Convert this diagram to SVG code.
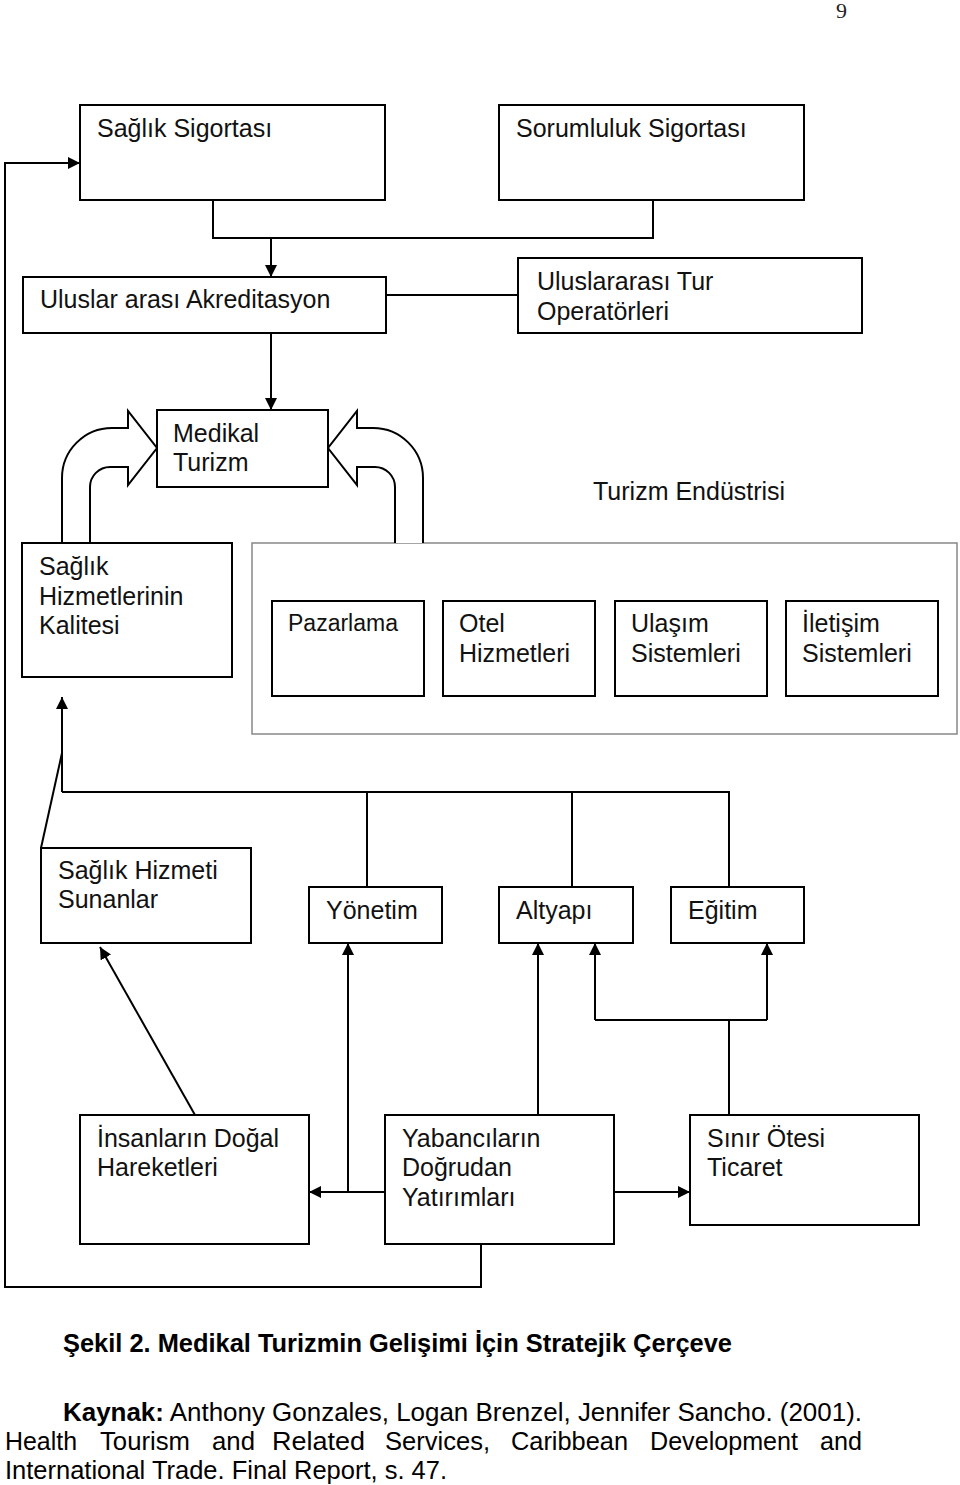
<svg xmlns="http://www.w3.org/2000/svg" width="960" height="1485" viewBox="0 0 960 1485">
<style>
.box{fill:#fff;stroke:#000;stroke-width:2}
.con{fill:none;stroke:#000;stroke-width:2}
.blk{fill:#fff;stroke:#000;stroke-width:2;stroke-linejoin:miter}
.t{font-family:"Liberation Sans",Arial,sans-serif;font-size:25px;fill:#111}
.s{font-family:"Liberation Sans",Arial,sans-serif;font-size:23px;fill:#111}
.c{font-family:"Liberation Sans",Arial,sans-serif;font-size:25px;fill:#000}
</style>
<defs>
<marker id="ah" viewBox="0 0 12 12" refX="12" refY="6" markerWidth="12" markerHeight="12" orient="auto" markerUnits="userSpaceOnUse">
<path d="M0,0 L12,6 L0,12 z" fill="#000"/>
</marker>
</defs>
<rect width="960" height="1485" fill="#fff"/>
<text x="836" y="18" font-family="Liberation Serif,serif" font-size="22" fill="#222">9</text>

<g id="turizm-endustrisi">
<rect x="252" y="543" width="705" height="191" fill="#fff" stroke="#888" stroke-width="1.5"/>
<text class="t" x="593" y="500">Turizm Endüstrisi</text>
</g>

<g id="connectors">
<path class="con" d="M481,1244 V1287 H5 V163 H80" marker-end="url(#ah)"/>
<path class="con" d="M213,200 V238 H653 V200"/>
<path class="con" d="M271,238 V277" marker-end="url(#ah)"/>
<path class="con" d="M386,295 H518"/>
<path class="con" d="M271,333 V410" marker-end="url(#ah)"/>
<path class="blk" d="M62,543 V478 A50,50 0 0 1 112,428 H128 V411 L157,448 L128,485 V467 H110 A20,20 0 0 0 90,487 V543"/>
<path class="blk" d="M423,543 V478 A50,50 0 0 0 373,428 H357 V411 L328,448 L357,485 V467 H375 A20,20 0 0 1 395,487 V543"/>
<path class="con" d="M41,848 L62,753"/>
<path class="con" d="M62,792 V697" marker-end="url(#ah)"/>
<path class="con" d="M62,792 H729 V887"/>
<path class="con" d="M367,792 V887"/>
<path class="con" d="M572,792 V887"/>
<path class="con" d="M195,1115 L100,947" marker-end="url(#ah)"/>
<path class="con" d="M385,1192 H309" marker-end="url(#ah)"/>
<path class="con" d="M348,1192 V943" marker-end="url(#ah)"/>
<path class="con" d="M538,1115 V943" marker-end="url(#ah)"/>
<path class="con" d="M614,1192 H690" marker-end="url(#ah)"/>
<path class="con" d="M729,1115 V1020"/>
<path class="con" d="M595,1020 H767"/>
<path class="con" d="M595,1020 V943" marker-end="url(#ah)"/>
<path class="con" d="M767,1020 V943" marker-end="url(#ah)"/>
</g>

<g id="saglik-sigortasi"><rect class="box" x="80" y="105" width="305" height="95"/><text class="t" x="97" y="137">Sağlık Sigortası</text></g>
<g id="sorumluluk-sigortasi"><rect class="box" x="499" y="105" width="305" height="95"/><text class="t" x="516" y="137">Sorumluluk Sigortası</text></g>
<g id="akreditasyon"><rect class="box" x="23" y="277" width="363" height="56"/><text class="t" x="40" y="308">Uluslar arası Akreditasyon</text></g>
<g id="tur-operatorleri"><rect class="box" x="518" y="258" width="344" height="75"/><text class="t" x="537" y="290">Uluslararası Tur</text><text class="t" x="537" y="320">Operatörleri</text></g>
<g id="medikal-turizm"><rect class="box" x="157" y="410" width="171" height="77"/><text class="t" x="173" y="442">Medikal</text><text class="t" x="173" y="471">Turizm</text></g>
<g id="saglik-kalitesi"><rect class="box" x="22" y="543" width="210" height="134"/><text class="t" x="39" y="575">Sağlık</text><text class="t" x="39" y="605">Hizmetlerinin</text><text class="t" x="39" y="634">Kalitesi</text></g>
<g id="pazarlama"><rect class="box" x="272" y="601" width="152" height="95"/><text class="s" x="288" y="631">Pazarlama</text></g>
<g id="otel"><rect class="box" x="443" y="601" width="152" height="95"/><text class="t" x="459" y="632">Otel</text><text class="t" x="459" y="662">Hizmetleri</text></g>
<g id="ulasim"><rect class="box" x="615" y="601" width="152" height="95"/><text class="t" x="631" y="632">Ulaşım</text><text class="t" x="631" y="662">Sistemleri</text></g>
<g id="iletisim"><rect class="box" x="786" y="601" width="152" height="95"/><text class="t" x="802" y="632">İletişim</text><text class="t" x="802" y="662">Sistemleri</text></g>
<g id="saglik-hizmeti-sunanlar"><rect class="box" x="41" y="848" width="210" height="95"/><text class="t" x="58" y="879">Sağlık Hizmeti</text><text class="t" x="58" y="908">Sunanlar</text></g>
<g id="yonetim"><rect class="box" x="309" y="887" width="133" height="56"/><text class="t" x="326" y="919">Yönetim</text></g>
<g id="altyapi"><rect class="box" x="499" y="887" width="134" height="56"/><text class="t" x="516" y="919">Altyapı</text></g>
<g id="egitim"><rect class="box" x="671" y="887" width="133" height="56"/><text class="t" x="688" y="919">Eğitim</text></g>
<g id="insanlarin"><rect class="box" x="80" y="1115" width="229" height="129"/><text class="t" x="97" y="1147">İnsanların Doğal</text><text class="t" x="97" y="1176">Hareketleri</text></g>
<g id="yabancilarin"><rect class="box" x="385" y="1115" width="229" height="129"/><text class="t" x="402" y="1147">Yabancıların</text><text class="t" x="402" y="1176">Doğrudan</text><text class="t" x="402" y="1206">Yatırımları</text></g>
<g id="sinir-otesi"><rect class="box" x="690" y="1115" width="229" height="110"/><text class="t" x="707" y="1147">Sınır Ötesi</text><text class="t" x="707" y="1176">Ticaret</text></g>

<g id="caption">
<text class="c" x="63" y="1352" font-weight="bold" textLength="669" lengthAdjust="spacingAndGlyphs">Şekil 2. Medikal Turizmin Gelişimi İçin Stratejik Çerçeve</text>
<text class="c" x="63" y="1421" textLength="799" lengthAdjust="spacingAndGlyphs"><tspan font-weight="bold">Kaynak:</tspan> Anthony Gonzales, Logan Brenzel, Jennifer Sancho. (2001).</text>
<text class="c" y="1450"><tspan x="5" textLength="72" lengthAdjust="spacingAndGlyphs">Health</tspan><tspan x="100" textLength="90" lengthAdjust="spacingAndGlyphs">Tourism</tspan><tspan x="212" textLength="43" lengthAdjust="spacingAndGlyphs">and</tspan><tspan x="272" textLength="93" lengthAdjust="spacingAndGlyphs">Related</tspan><tspan x="385" textLength="105" lengthAdjust="spacingAndGlyphs">Services,</tspan><tspan x="511" textLength="117" lengthAdjust="spacingAndGlyphs">Caribbean</tspan><tspan x="650" textLength="148" lengthAdjust="spacingAndGlyphs">Development</tspan><tspan x="820" textLength="42" lengthAdjust="spacingAndGlyphs">and</tspan></text>
<text class="c" x="5" y="1479" textLength="442" lengthAdjust="spacingAndGlyphs">International Trade. Final Report, s. 47.</text>
</g>
</svg>
